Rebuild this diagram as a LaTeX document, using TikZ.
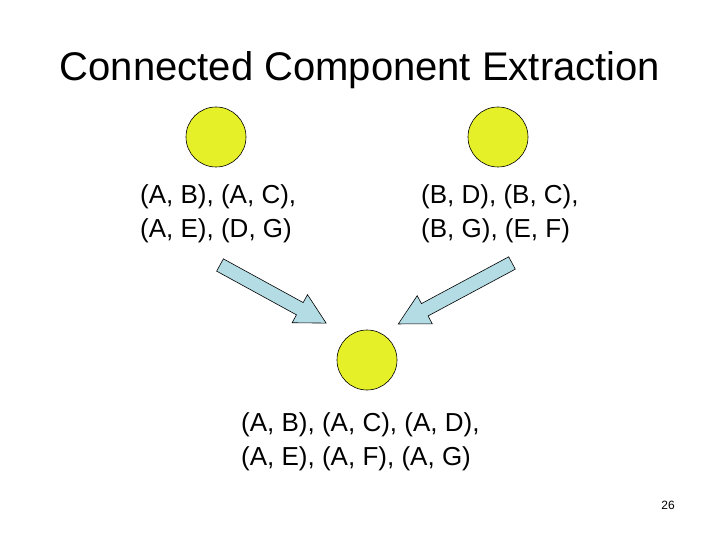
\documentclass[tikz,border=0pt]{standalone}
\usepackage{fontspec}
\setmainfont{Liberation Sans}
\begin{document}
\begin{tikzpicture}[x=1pt,y=-1pt,
  dot/.style={circle,draw=black,fill=dotc,minimum size=60pt,inner sep=0pt,line width=0.6pt},
  lbl/.style={anchor=west,align=left,font=\fontsize{26}{34}\selectfont,inner sep=0pt},
  barrow/.style={draw=black,fill=arrc,line width=0.6pt}]
\definecolor{dotc}{RGB}{230,240,40}
\definecolor{arrc}{RGB}{180,220,228}
\useasboundingbox (0,0) rectangle (720,540);
\node[font=\fontsize{40}{44}\selectfont] (title) at (360,70) {Connected Component Extraction};
\node[dot] (c1) at (216,137) {};
\node[dot] (c2) at (498,137) {};
\node[dot] (c3) at (367,360) {};
\node[lbl] (t1) at (140,214) {(A, B), (A, C),\\(A, E), (D, G)};
\node[lbl] (t2) at (421,214) {(B, D), (B, C),\\(B, G), (E, F)};
\node[lbl] (t3) at (241,442) {(A, B), (A, C), (A, D),\\(A, E), (A, F), (A, G)};
\begin{scope}[shift={(220,265)},rotate=-28.7]
\draw[barrow] (0,-7) -- (91,-7) -- (91,-16) -- (121,0) -- (91,16) -- (91,7) -- (0,7) -- cycle;
\end{scope}
\begin{scope}[shift={(512,263)},rotate=-151.8]
\draw[barrow] (0,-7) -- (99,-7) -- (99,-16) -- (129,0) -- (99,16) -- (99,7) -- (0,7) -- cycle;
\end{scope}
\node[font=\fontsize{12}{14}\selectfont] (pg) at (668,505) {26};
\end{tikzpicture}
\end{document}
